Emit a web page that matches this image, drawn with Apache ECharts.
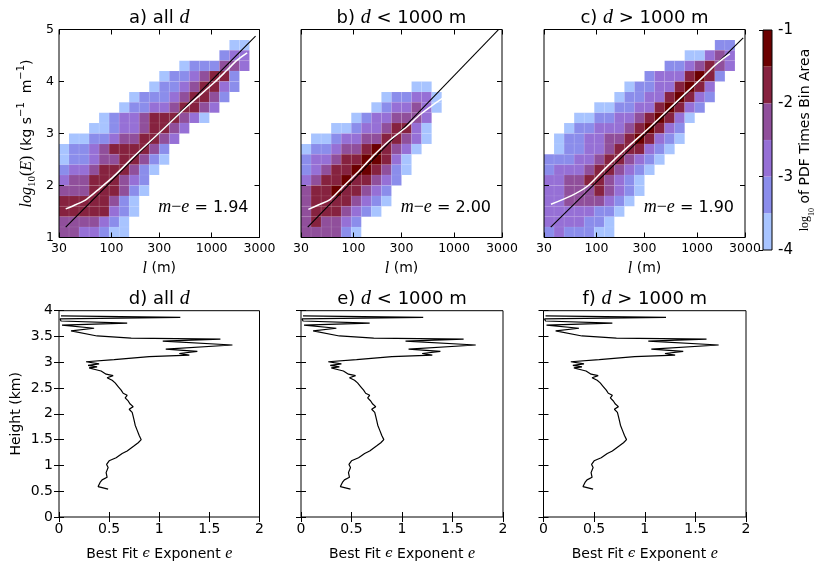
<!DOCTYPE html>
<html>
<head>
<meta charset="utf-8">
<script src="https://cdn.jsdelivr.net/npm/echarts@6/dist/echarts.min.js"></script>
<style>
  html, body { margin: 0; padding: 0; background: #fff; }
  #chart { width: 817px; height: 563px; }
</style>
</head>
<body>
<div id="chart"></div>
<script>
// ---------- data ----------
// log10(PDF x bin area) bands of the colour bar and their fill colours
const pdfLevels = [-4, -3.5, -3, -2.5, -2, -1.5, -1];
const levelColors = ['#a8c4ff', '#8b8deb', '#9670d6', '#904f9b', '#86223f', '#6b0000'];

// Histogram extent: l from 30 m to 3000 m (log-spaced bins), log10(E) from 1 to 5
const lRange = [30, 3000];
const eRange = [1, 5];
const nBins = 20;
const lTicks = [30, 100, 300, 1000, 3000];

// PDF band of every bin (0 = empty, 1..6 = colour band), rows from log10(E) = 5 down to 1
const pdfAll = [
  '00000000000000000000',
  '00000000000000000110',
  '00000000000000002330',
  '00000000000012224430',
  '00000000001223455200',
  '00000000012234553200',
  '00000001222345542000',
  '00000012233455430000',
  '00001233455543100000',
  '00011233455430000000',
  '01122344554300000000',
  '12234555542000000000',
  '12234455421000000000',
  '23345554210000000000',
  '34455543200000000000',
  '44455542100000000000',
  '55555421000000000000',
  '55555321000000000000',
  '44443210000000000000',
  '44332110000000000000'
];
const pdfNear = [
  '00000000000000000000',
  '00000000000000000000',
  '00000000000000000000',
  '00000000000000000000',
  '00000000000000000000',
  '00000000000110000000',
  '00000000122331000000',
  '00000001233431000000',
  '00000123344430000000',
  '00011233455310000000',
  '01123344554310000000',
  '12234456543100000000',
  '23345566531000000000',
  '23455665421000000000',
  '34556554320000000000',
  '45565543200000000000',
  '45555432100000000000',
  '45554321000000000000',
  '45443200000000000000',
  '44442100000000000000'
];
const pdfFar = [
  '00000000000000000000',
  '00000000000000000220',
  '00000000000000113430',
  '00000000000022345430',
  '00000000002333565200',
  '00000000122335653000',
  '00000001223356532000',
  '00000112233565320000',
  '00011223345653100000',
  '00122333456532000000',
  '01223344565321000000',
  '01223345553210000000',
  '22233455432100000000',
  '23334554321000000000',
  '33445543210000000000',
  '33444543210000000000',
  '33444432100000000000',
  '33333221000000000000',
  '33332210000000000000',
  '23222110000000000000'
];

// Power-law fits: slope (m - e), start point (l, log10 E) and end length
const fitSlope = [1.94, 2.00, 1.90];
const fitStart = [[35, 1.2], [35, 1.2], [35, 1.2]];
const fitEndL = [2740, 2800, 2880];

// Binned mean log10(E) against l
const meanLAll = [35, 45.1, 56.8, 77.1, 104.7, 166, 307, 568, 1047, 1426, 1795, 2259];
const meanEAll = [1.55, 1.64, 1.74, 1.95, 2.17, 2.55, 3.03, 3.52, 3.97, 4.22, 4.41, 4.55];
const meanLNear = [35.5, 46.3, 58.3, 76.2, 107, 157, 229, 339, 457, 617, 771];
const meanENear = [1.54, 1.64, 1.73, 1.95, 2.23, 2.57, 2.87, 3.13, 3.36, 3.55, 3.68];
const meanLFar = [35.2, 55.7, 81.7, 119.4, 188.8, 346.7, 691.8, 1096, 1507, 1820, 2123];
const meanEFar = [1.64, 1.80, 1.99, 2.31, 2.68, 3.14, 3.69, 4.05, 4.31, 4.44, 4.53];

// Vertical profile of the best-fit epsilon exponent (same in all three panels)
const profileE = [0.02, 1.21, 0.01, 0.02, 0.68, 0.03, 0.35, 0.12, 0.38, 0.72, 1.61, 1.035, 1.73, 1.065,
  1.38, 1.20, 1.30, 0.90, 0.55, 0.27, 0.40, 0.29, 0.38, 0.30, 0.36, 0.42, 0.47, 0.54, 0.48, 0.53,
  0.56, 0.59, 0.62, 0.64, 0.68, 0.66, 0.69, 0.71, 0.74, 0.70, 0.73, 0.74, 0.75, 0.76, 0.78, 0.80,
  0.82, 0.79, 0.75, 0.68, 0.63, 0.57, 0.50, 0.475, 0.49, 0.47, 0.48, 0.43, 0.41, 0.39, 0.49];
const profileH = [3.90, 3.87, 3.84, 3.80, 3.76, 3.72, 3.66, 3.61, 3.51, 3.47, 3.45, 3.41, 3.335, 3.255,
  3.21, 3.17, 3.14, 3.11, 3.05, 3.01, 2.97, 2.94, 2.91, 2.89, 2.86, 2.83, 2.77, 2.74, 2.70, 2.65,
  2.60, 2.53, 2.46, 2.40, 2.36, 2.31, 2.25, 2.19, 2.14, 2.09, 2.03, 1.95, 1.87, 1.78, 1.68, 1.58,
  1.50, 1.44, 1.38, 1.28, 1.23, 1.15, 1.09, 1.02, 0.96, 0.86, 0.77, 0.72, 0.67, 0.59, 0.54];

const panelTitles = [
  '{n|a) all }{i|d}', '{n|b) }{i|d}{n| < 1000 m}', '{n|c) }{i|d}{n| > 1000 m}',
  '{n|d) all }{i|d}', '{n|e) }{i|d}{n| < 1000 m}', '{n|f) }{i|d}{n| > 1000 m}'
];

// ---------- layout ----------
const FONT = 'DejaVu Sans';
const SERIF = 'Liberation Serif';
const heatGrids = [
  { left: 59, top: 29.5, width: 200.5, height: 208 },
  { left: 301, top: 29.5, width: 201, height: 208 },
  { left: 544, top: 29.5, width: 201, height: 208 }
];
const lineGrids = [
  { left: 59, top: 310.7, width: 200.5, height: 207 },
  { left: 301, top: 310.7, width: 202, height: 207 },
  { left: 543.5, top: 310.7, width: 202.5, height: 207 }
];
const cbGrid = { left: 763, top: 30, width: 18, height: 220 };

const lgMin = Math.log10(lRange[0]);
const lgMax = Math.log10(lRange[1]);
const lTickVals = lTicks.map(v => Math.log10(v));

function cellsFromRows(rows) {
  const dx = (lgMax - lgMin) / nBins;
  const dy = (eRange[1] - eRange[0]) / nBins;
  const out = [];
  rows.forEach((row, r) => {
    const j = nBins - 1 - r;
    for (let i = 0; i < nBins; i++) {
      const k = +row[i];
      if (k > 0) out.push([lgMin + i * dx, lgMin + (i + 1) * dx, eRange[0] + j * dy, eRange[0] + (j + 1) * dy, k]);
    }
  });
  return out;
}

function renderCell(params, api) {
  const a = api.coord([api.value(0), api.value(3)]);
  const b = api.coord([api.value(1), api.value(2)]);
  return {
    type: 'rect',
    shape: { x: a[0], y: a[1], width: b[0] - a[0], height: b[1] - a[1] },
    style: { fill: levelColors[api.value(4) - 1], stroke: 'rgba(255,255,255,0.13)', lineWidth: 0.5 }
  };
}

const rich = {
  n: { fontFamily: FONT, fontSize: 14, color: '#000', lineHeight: 22 },
  i: { fontFamily: SERIF, fontStyle: 'italic', fontSize: 16, color: '#000', lineHeight: 22 },
  r: { fontFamily: SERIF, fontSize: 16, color: '#000', lineHeight: 22 },
  eps: { fontFamily: 'DejaVu Serif', fontStyle: 'italic', fontSize: 13, color: '#000', lineHeight: 22 },
  sub: { fontFamily: SERIF, fontSize: 11, color: '#000', lineHeight: 12, verticalAlign: 'bottom' },
  sup: { fontFamily: FONT, fontSize: 10, color: '#000', lineHeight: 12, verticalAlign: 'top' },
  rs: { fontFamily: SERIF, fontSize: 12, color: '#000', lineHeight: 20 },
  sub2: { fontFamily: SERIF, fontSize: 8, color: '#000', lineHeight: 10, verticalAlign: 'bottom' }
};

const titleRich = {
  n: { fontFamily: FONT, fontSize: 18, color: '#000', fontWeight: 'normal' },
  i: { fontFamily: SERIF, fontStyle: 'italic', fontSize: 20, color: '#000', fontWeight: 'normal' }
};
const labelRich = {
  n: { fontFamily: FONT, fontSize: 16, color: '#000', fontWeight: 'normal' },
  i: { fontFamily: SERIF, fontStyle: 'italic', fontSize: 18, color: '#000', fontWeight: 'normal' },
  r: { fontFamily: SERIF, fontSize: 18, color: '#000', fontWeight: 'normal' }
};

const tick = (extra) => Object.assign({ show: true, inside: true, length: 5, lineStyle: { color: '#000', width: 1 } }, extra || {});

const titles = [];
const grids = [];
const xAxes = [];
const yAxes = [];
const series = [];

const heatRows = [pdfAll, pdfNear, pdfFar];
const meanL = [meanLAll, meanLNear, meanLFar];
const meanE = [meanEAll, meanENear, meanEFar];

heatGrids.forEach((g, p) => {
  grids.push(Object.assign({ show: true, borderColor: '#000', borderWidth: 1, z: 10 }, g));
  const cx = g.left + g.width / 2;
  titles.push({ text: panelTitles[p], left: cx, top: 18, textAlign: 'center', textVerticalAlign: 'middle', padding: 0,
    textStyle: { fontWeight: 'normal', rich: titleRich } });
  titles.push({ text: '{i|m}{r|\u2212}{i|e}{n| = ' + fitSlope[p].toFixed(2) + '}',
    left: g.left + g.width - 11, top: 207.5, textAlign: 'right', textVerticalAlign: 'middle', padding: 0,
    textStyle: { fontWeight: 'normal', rich: labelRich } });

  xAxes.push({
    type: 'value', gridIndex: p, position: 'bottom', min: lgMin, max: lgMax, z: 10,
    axisLine: { show: false }, splitLine: { show: false },
    axisTick: tick({ customValues: lTickVals }),
    axisLabel: { show: true, customValues: lTickVals, formatter: v => String(Math.round(Math.pow(10, v))),
      fontFamily: FONT, fontSize: 12.5, color: '#000', margin: 5 },
    name: '{i|l}{n| (m)}', nameLocation: 'middle', nameGap: 20,
    nameTextStyle: { rich: rich }
  });
  xAxes.push({
    type: 'value', gridIndex: p, position: 'top', min: lgMin, max: lgMax, z: 10,
    axisLine: { show: false }, splitLine: { show: false },
    axisTick: tick({ customValues: lTickVals }), axisLabel: { show: false }
  });
  yAxes.push({
    type: 'value', gridIndex: p, position: 'left', min: eRange[0], max: eRange[1], interval: 1, z: 10,
    axisLine: { show: false }, splitLine: { show: false }, axisTick: tick(),
    axisLabel: { show: p === 0, fontFamily: FONT, fontSize: 12.5, color: '#000', margin: 5 },
    name: p === 0 ? '{i|log}{sub|10}{r|(}{i|E}{r|)}{n| (kg s}{sup|\u22121}{n|  m}{sup|\u22121}{n|)}' : '',
    nameLocation: 'middle', nameGap: 21, nameRotate: 90,
    nameTextStyle: { rich: rich }
  });
  yAxes.push({
    type: 'value', gridIndex: p, position: 'right', min: eRange[0], max: eRange[1], interval: 1, z: 10,
    axisLine: { show: false }, splitLine: { show: false }, axisTick: tick(), axisLabel: { show: false }
  });

  series.push({
    type: 'custom', xAxisIndex: 2 * p, yAxisIndex: 2 * p, data: cellsFromRows(heatRows[p]),
    encode: { x: [0, 1], y: [2, 3] }, renderItem: renderCell, silent: true, z: 1, clip: true
  });
  const x0 = Math.log10(fitStart[p][0]);
  const x1 = Math.log10(fitEndL[p]);
  series.push({
    type: 'line', xAxisIndex: 2 * p, yAxisIndex: 2 * p, symbol: 'none', silent: true, z: 3, clip: true,
    lineStyle: { color: '#000', width: 1.1 },
    data: [[x0, fitStart[p][1]], [x1, fitStart[p][1] + fitSlope[p] * (x1 - x0)]]
  });
  series.push({
    type: 'line', xAxisIndex: 2 * p, yAxisIndex: 2 * p, symbol: 'none', silent: true, z: 4, smooth: 0.3,
    lineStyle: { color: '#fff', width: 1.5 },
    data: meanL[p].map((l, k) => [Math.log10(l), meanE[p][k]])
  });
});

lineGrids.forEach((g, q) => {
  const gi = 3 + q;
  grids.push(Object.assign({ show: true, borderColor: '#000', borderWidth: 1, z: 10 }, g));
  titles.push({ text: panelTitles[gi], left: g.left + g.width / 2, top: 299, textAlign: 'center', textVerticalAlign: 'middle', padding: 0,
    textStyle: { fontWeight: 'normal', rich: titleRich } });
  xAxes.push({
    type: 'value', gridIndex: gi, position: 'bottom', min: 0, max: 2, interval: 0.5, z: 10,
    axisLine: { show: false }, splitLine: { show: false }, axisTick: tick(),
    axisLabel: { show: true, fontFamily: FONT, fontSize: 14, color: '#000', margin: 5 },
    name: '{n|Best Fit }{eps|\u03f5}{n| Exponent }{i|e}', nameLocation: 'middle', nameGap: 26,
    nameTextStyle: { rich: rich }
  });
  xAxes.push({
    type: 'value', gridIndex: gi, position: 'top', min: 0, max: 2, interval: 0.5, z: 10,
    axisLine: { show: false }, splitLine: { show: false }, axisTick: tick(), axisLabel: { show: false }
  });
  yAxes.push({
    type: 'value', gridIndex: gi, position: 'left', min: 0, max: 4, interval: 0.5, z: 10,
    axisLine: { show: false }, splitLine: { show: false }, axisTick: tick(),
    axisLabel: { show: q === 0, fontFamily: FONT, fontSize: 14, color: '#000', margin: 6 },
    name: q === 0 ? 'Height (km)' : '', nameLocation: 'middle', nameGap: 36, nameRotate: 90,
    nameTextStyle: { fontFamily: FONT, fontSize: 14, color: '#000' }
  });
  yAxes.push({
    type: 'value', gridIndex: gi, position: 'right', min: 0, max: 4, interval: 0.5, z: 10,
    axisLine: { show: false }, splitLine: { show: false }, axisTick: tick(), axisLabel: { show: false }
  });
  series.push({
    type: 'line', xAxisIndex: 2 * gi, yAxisIndex: 2 * gi, symbol: 'none', silent: true, z: 3,
    lineStyle: { color: '#000', width: 1.2 },
    data: profileE.map((e, k) => [e, profileH[k]])
  });
});

// colour bar
grids.push(Object.assign({ show: true, borderColor: '#000', borderWidth: 1, z: 10 }, cbGrid));
xAxes.push({ type: 'value', gridIndex: 6, min: 0, max: 1, show: false });
yAxes.push({
  type: 'value', gridIndex: 6, position: 'right', min: pdfLevels[0], max: pdfLevels[pdfLevels.length - 1], interval: 1, z: 10,
  axisLine: { show: false }, splitLine: { show: false }, axisTick: tick({ length: 4 }),
  axisLabel: { show: true, fontFamily: FONT, fontSize: 15, color: '#000', margin: 6 },
  name: '{rs|log}{sub2|10}{n| of PDF Times Bin Area}', nameLocation: 'middle', nameGap: 22, nameRotate: 90,
  nameTextStyle: { rich: rich }
});
series.push({
  type: 'custom', xAxisIndex: 12, yAxisIndex: 12, silent: true, z: 1,
  encode: { x: [0, 1], y: [2, 3] }, renderItem: renderCell,
  data: levelColors.map((c, k) => [0, 1, pdfLevels[k], pdfLevels[k + 1], k + 1])
});

const chart = echarts.init(document.getElementById('chart'), null, { renderer: 'canvas' });
chart.setOption({
  animation: false,
  backgroundColor: '#ffffff',
  textStyle: { fontFamily: FONT, color: '#000' },
  title: titles,
  grid: grids,
  xAxis: xAxes,
  yAxis: yAxes,
  series: series
});
</script>
</body>
</html>
